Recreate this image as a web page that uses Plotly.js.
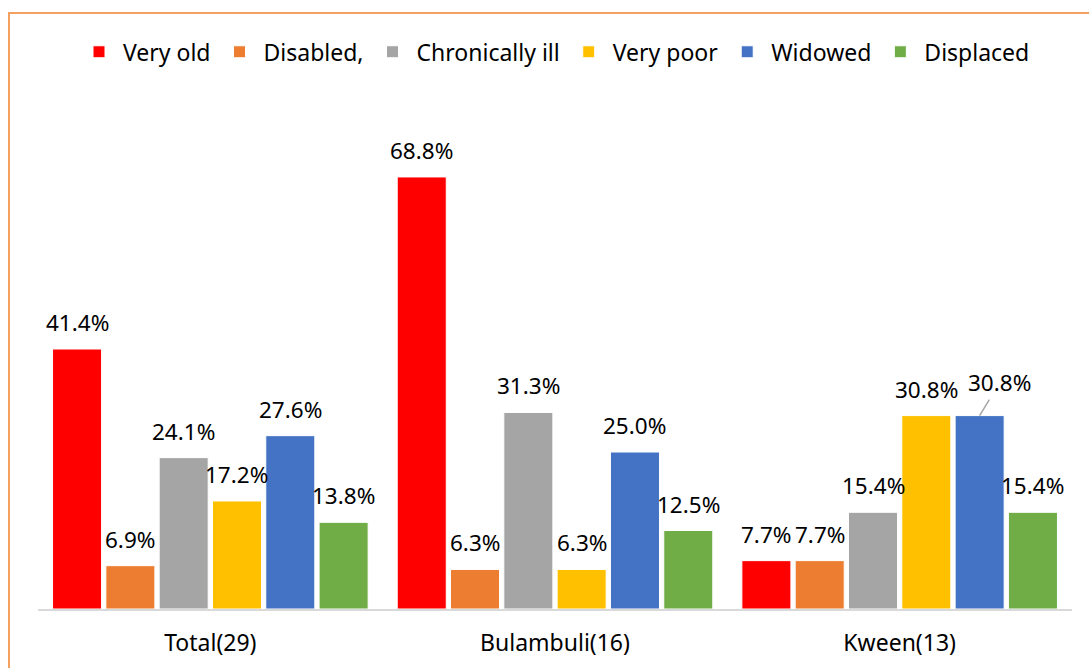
<!DOCTYPE html>
<html>
<head>
<meta charset="utf-8">
<script src="https://cdn.plot.ly/plotly-3.0.1.min.js"></script>
<style>
  html, body { margin: 0; padding: 0; background: #fff; overflow: hidden; }
  #chart { width: 1089px; height: 668px; }
  #frame { position: absolute; left: 8px; top: 12px; width: 2000px; height: 2000px;
           border-left: 2px solid #F4A060; border-top: 2px solid #F4A060; pointer-events: none; }
</style>
</head>
<body>
<div id="chart"></div>
<div id="frame"></div>
<script>
const categories = ["Total(29)", "Bulambuli(16)", "Kween(13)"];
const seriesNames = ["Very old", "Disabled,", "Chronically ill", "Very poor", "Widowed", "Displaced"];
const veryOld = [41.4, 68.8, 7.7];
const disabled = [6.9, 6.3, 7.7];
const chronicallyIll = [24.1, 31.3, 15.4];
const veryPoor = [17.2, 6.3, 30.8];
const widowed = [27.6, 25.0, 30.8];
const displaced = [13.8, 12.5, 15.4];
const seriesValues = [veryOld, disabled, chronicallyIll, veryPoor, widowed, displaced];
const colors = ["#FF0000", "#ED7D31", "#A5A5A5", "#FFC000", "#4472C4", "#70AD47"];

const W = 1089, H = 668;
const margin = { l: 38, r: 17, t: 138, b: 59 };
const bargap = 0.072, bargroupgap = 0.08;
const FONT = "'Noto Sans', 'Open Sans', sans-serif";

const traces = seriesNames.map((name, i) => ({
  type: 'bar',
  name: name,
  x: categories,
  y: seriesValues[i],
  marker: { color: colors[i], line: { color: '#ffffff', width: 1 } },
  hoverinfo: 'none'
}));

const plotW = W - margin.l - margin.r;
const catPx = plotW / categories.length;
const slotPx = catPx * (1 - bargap) / seriesNames.length;

const annotations = [];
seriesValues.forEach((vals, s) => {
  vals.forEach((v, c) => {
    const ann = {
      x: categories[c], y: v, xref: 'x', yref: 'y',
      text: v.toFixed(1) + '%',
      xshift: (s - (seriesNames.length - 1) / 2) * slotPx,
      font: { family: FONT, size: 22.5, color: '#000' }
    };
    if (s === 4 && c === 2) {
      ann.showarrow = true; ann.arrowhead = 0; ann.arrowwidth = 1.5;
      ann.arrowcolor = '#A5A5A5'; ann.ax = 20; ann.ay = -33; ann.standoff = 0;
    } else {
      ann.showarrow = false; ann.yanchor = 'bottom'; ann.yshift = 9;
    }
    annotations.push(ann);
  });
});

const layout = {
  width: W, height: H,
  margin: margin,
  paper_bgcolor: '#ffffff', plot_bgcolor: '#ffffff',
  barmode: 'group', bargap: bargap, bargroupgap: bargroupgap,
  font: { family: FONT, size: 22, color: '#000' },
  showlegend: true,
  legend: {
    orientation: 'h', x: 0.5, xanchor: 'center', y: 1.183, yanchor: 'middle',
    itemwidth: 38,
    font: { family: FONT, size: 23, color: '#000' }, traceorder: 'normal'
  },
  xaxis: {
    type: 'category', showline: true, linecolor: '#D9D9D9', linewidth: 2,
    ticks: '', ticklabelstandoff: 12, showgrid: false, zeroline: false,
    tickfont: { family: FONT, size: 23, color: '#000' }
  },
  yaxis: {
    range: [0, 75], visible: false, showgrid: false, zeroline: false, fixedrange: true
  },
  annotations: annotations
};

Plotly.newPlot('chart', traces, layout, { staticPlot: true, displayModeBar: false });
</script>
</body>
</html>
